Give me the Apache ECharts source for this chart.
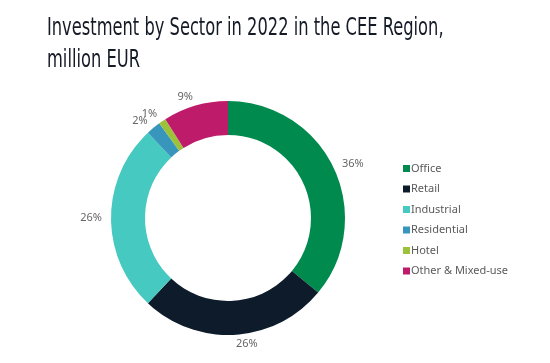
<!DOCTYPE html>
<html><head><meta charset="utf-8">
<script src="https://cdn.jsdelivr.net/npm/echarts@6/dist/echarts.min.js"></script>
<style>html,body{margin:0;padding:0;background:#fff}#c{width:550px;height:363px}</style>
</head><body><div id="c"></div>
<script>
const titleText = "Investment by Sector in 2022 in the CEE Region,\nmillion EUR";
const categories = ["Office","Retail","Industrial","Residential","Hotel","Other & Mixed-use"];
const values = [36,26,26,2,1,9];
const colors = ["#008a4e","#0d1b2b","#46c9c0","#3896bd","#9cc23b","#be1c6a"];
const chart = echarts.init(document.getElementById('c'));
chart.setOption({
  animation:false,
  graphic:[{
    type:'text', x:47, y:12, scaleX:0.724, scaleY:1,
    style:{text:titleText, font:"normal 25px 'DejaVu Sans Condensed', sans-serif", fill:'#141a26', lineHeight:32, textVerticalAlign:'top', textAlign:'left'}
  }],
  legend:{
    orient:'vertical', left:398, top:158,
    itemWidth:7, itemHeight:7, itemGap:9.5, icon:'rect',
    textStyle:{fontFamily:"Noto Sans, sans-serif",fontSize:11,color:'#5a5a5a',padding:[0,0,0,-4]},
    data:categories
  },
  series:[{
    type:'pie',
    center:[228,218],
    radius:[83,117],
    startAngle:90,
    clockwise:true,
    avoidLabelOverlap:false,
    labelLayout:{hideOverlap:false},
    label:{show:true,position:'outside',formatter:'{d}%',fontFamily:"Noto Sans, sans-serif",fontSize:11,color:'#666',distanceToLabelLine:0},
    labelLine:{show:false,length:9,length2:0},
    data:categories.map((n,i)=>({name:n,value:values[i],itemStyle:{color:colors[i]}}))
  }]
});
</script></body></html>
